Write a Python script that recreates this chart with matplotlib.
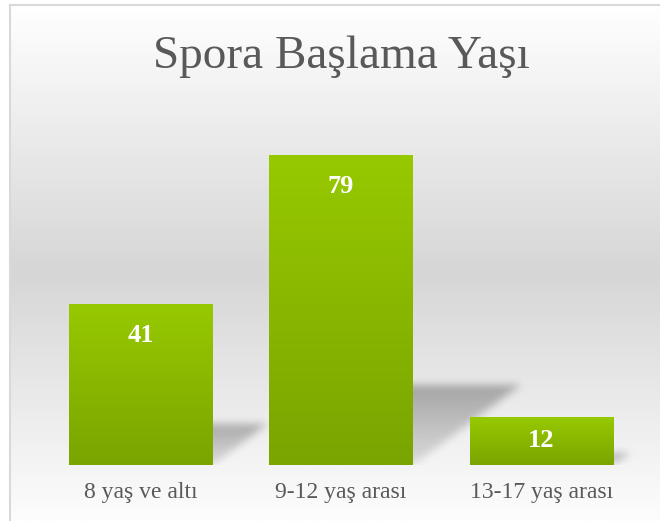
import numpy as np
import matplotlib.pyplot as plt

# chart data
categories = ['8 yaş ve altı', '9-12 yaş arası', '13-17 yaş arası']
counts = [41, 79, 12]
chart_title = 'Spora Başlama Yaşı'

W, H, DPI = 660, 521, 100
SERIF = 'Liberation Serif'
TEXT_GREY = '#595959'
YMAX = 90


def gaussian_blur(img, sigma):
    """Separable gaussian blur using plain numpy."""
    r = int(3 * sigma)
    k = np.exp(-np.arange(-r, r + 1) ** 2 / (2.0 * sigma ** 2))
    k /= k.sum()
    out = np.apply_along_axis(lambda v: np.convolve(v, k, mode='same'), 0, img)
    out = np.apply_along_axis(lambda v: np.convolve(v, k, mode='same'), 1, out)
    return out


def add_bar_shadows(ax, bars, ax_w_px, ax_h_px):
    """Soft slanted shadow behind each bar, cast towards the upper right."""
    ppx = ax_w_px / 3.0
    ppy = ax_h_px / YMAX
    nx, ny = int(ax_w_px), int(ax_h_px)
    xp = np.arange(nx) + 0.5
    alpha = np.zeros((ny, nx))
    for rect in bars:
        x0 = (rect.get_x() + 0.5) * ppx
        x1 = x0 + rect.get_width() * ppx
        hp = rect.get_height() * ppy
        sh = 0.26 * hp
        d = 0.35 * hp
        for row in range(int(sh)):
            t = (row + 0.5) / sh
            off = d * t
            inside = (xp >= x0 + off) & (xp <= x1 + off)
            alpha[row, inside] = np.maximum(alpha[row, inside], 0.10 + 0.19 * t)
    alpha = gaussian_blur(alpha, 4)
    rgba = np.zeros((ny, nx, 4))
    rgba[..., 3] = alpha
    ax.imshow(rgba, origin='lower', extent=[-0.5, 2.5, 0, YMAX],
              aspect='auto', zorder=1.5, interpolation='bilinear')


def add_bar_gradients(ax, bars):
    """Paint each bar with a light-to-dark green vertical gradient."""
    top = np.array([0x97, 0xC9, 0x00]) / 255.0
    bottom = np.array([0x7A, 0xA4, 0x00]) / 255.0
    t = np.linspace(0, 1, 256)[:, None]
    grad = (top * (1 - t) + bottom * t)[:, None, :]
    for rect in bars:
        x0 = rect.get_x()
        ax.imshow(grad, extent=[x0, x0 + rect.get_width(), 0, rect.get_height()],
                  origin='upper', aspect='auto', zorder=3)


def add_value_labels(ax, bars):
    # baseline sits ~37px under the bar top, closer for short bars
    for rect, v in zip(bars, counts):
        h_px = rect.get_height() * (ax.bbox.height / YMAX)
        drop_px = min(37.5, h_px / 2.0 + 6)
        ax.annotate(str(v), (rect.get_x() + rect.get_width() / 2, v),
                    xytext=(0, -drop_px * 72.0 / DPI), textcoords='offset points',
                    ha='center', va='baseline', color='white',
                    fontsize=19, fontweight='bold', family=SERIF, zorder=5)


fig = plt.figure(figsize=(W / DPI, H / DPI), dpi=DPI)
fig.patch.set_facecolor('white')

# chart area background: white -> grey -> white
bg = fig.add_axes([11 / W, 0, 1 - 11 / W, 1 - 6 / H], zorder=0)
ypix = np.linspace(6, H, 500)
shade = np.interp(ypix, [6, 272, H], [255, 214, 253]) / 255.0
bg.imshow(np.repeat(shade[:, None, None], 3, axis=2).repeat(2, axis=1),
          aspect='auto', extent=[0, 1, 0, 1], origin='upper')
bg.set_axis_off()

# outer border of the chart area
fig.add_artist(plt.Line2D([10 / W, 10 / W], [0, 1 - 5 / H], transform=fig.transFigure,
                          color='#d9d9d9', lw=1.5))
fig.add_artist(plt.Line2D([10 / W, 1], [1 - 5 / H, 1 - 5 / H], transform=fig.transFigure,
                          color='#d9d9d9', lw=1.5))

ax_left, ax_bottom = 40.25, H - 465
ax_w_px, ax_h_px = 601.5, YMAX * 3.92
ax = fig.add_axes([ax_left / W, ax_bottom / H, ax_w_px / W, ax_h_px / H], zorder=1)
ax.set_facecolor('none')

x = np.arange(len(categories))
bars = ax.bar(x, counts, width=0.715, color='#88B400', zorder=2)
add_bar_gradients(ax, bars)
add_bar_shadows(ax, bars, ax_w_px, ax_h_px)
add_value_labels(ax, bars)

ax.set_xlim(-0.5, 2.5)
ax.set_ylim(0, YMAX)
ax.set_xticks(x)
ax.set_xticklabels(categories, fontsize=17, family=SERIF, color=TEXT_GREY)
ax.tick_params(axis='x', length=0, pad=12)
ax.set_yticks([])
for s in ax.spines.values():
    s.set_visible(False)

fig.text(341 / W, 1 - 68 / H, chart_title, ha='center', va='baseline',
         fontsize=34, family=SERIF, color=TEXT_GREY)

plt.savefig('out.png', dpi=DPI)
plt.close()
